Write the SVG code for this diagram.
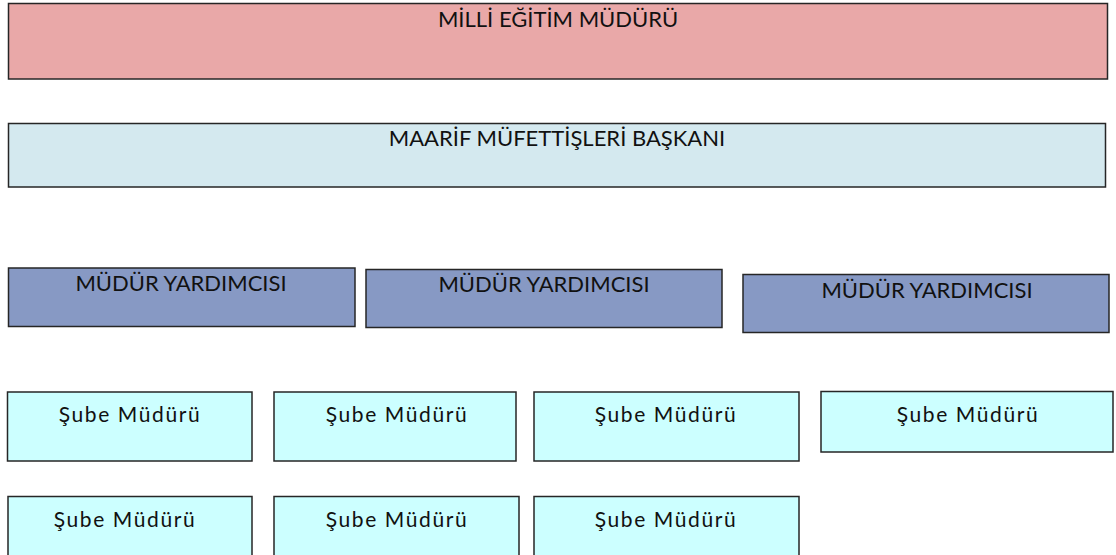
<svg xmlns="http://www.w3.org/2000/svg" width="1116" height="555" viewBox="0 0 1116 555">
<style>
.n rect{stroke:#262626;stroke-width:1.5}
text{font-family:Lato,"Open Sans","Noto Sans",sans-serif;font-size:22px;fill:#111;text-anchor:middle}
text.sm{font-size:21px;letter-spacing:1.6px}
.r{fill:#E9A8A8}.b{fill:#D4E9EF}.m{fill:#8799C4}.s{fill:#CCFFFF}
</style>
<rect width="1116" height="555" fill="#fff"/>
<g id="n-mem" class="n"><rect class="r" x="8.5" y="3.5" width="1099" height="75.5"/><text x="558" y="27">MİLLİ EĞİTİM MÜDÜRÜ</text></g>
<g id="n-mmb" class="n"><rect class="b" x="8.5" y="123.5" width="1097" height="63.5"/><text x="557" y="146">MAARİF MÜFETTİŞLERİ BAŞKANI</text></g>
<g id="n-my1" class="n"><rect class="m" x="8.5" y="268" width="346.5" height="58.5"/><text x="181" y="291">MÜDÜR YARDIMCISI</text></g>
<g id="n-my2" class="n"><rect class="m" x="366" y="269.5" width="356" height="58"/><text x="544" y="292">MÜDÜR YARDIMCISI</text></g>
<g id="n-my3" class="n"><rect class="m" x="743" y="274.5" width="366" height="58"/><text x="927" y="298">MÜDÜR YARDIMCISI</text></g>
<g id="n-s1" class="n"><rect class="s" x="7.5" y="392" width="244.5" height="69"/><text class="sm" x="130" y="422">Şube Müdürü</text></g>
<g id="n-s2" class="n"><rect class="s" x="274" y="392" width="242" height="69"/><text class="sm" x="397" y="422">Şube Müdürü</text></g>
<g id="n-s3" class="n"><rect class="s" x="534" y="392" width="265" height="69"/><text class="sm" x="666" y="422">Şube Müdürü</text></g>
<g id="n-s4" class="n"><rect class="s" x="821" y="391.5" width="292" height="60.5"/><text class="sm" x="968" y="422">Şube Müdürü</text></g>
<g id="n-s5" class="n"><rect class="s" x="8" y="496.5" width="244" height="70"/><text class="sm" x="125" y="527">Şube Müdürü</text></g>
<g id="n-s6" class="n"><rect class="s" x="274" y="496.5" width="245" height="70"/><text class="sm" x="397" y="527">Şube Müdürü</text></g>
<g id="n-s7" class="n"><rect class="s" x="534" y="496.5" width="265" height="70"/><text class="sm" x="666" y="527">Şube Müdürü</text></g>
<g id="connectors"></g>
</svg>
